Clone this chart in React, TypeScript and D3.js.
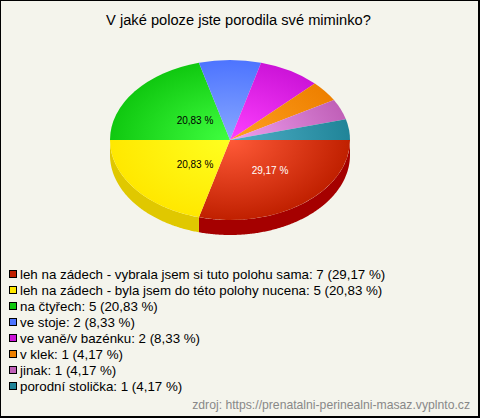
import React from "react";
import * as d3 from "d3";

const title = "V jaké poloze jste porodila své miminko?";
const categories = ["leh na zádech - vybrala jsem si tuto polohu sama","leh na zádech - byla jsem do této polohy nucena","na čtyřech","ve stoje","ve vaně/v bazénku","v klek","jinak","porodní stolička"];
const values = [7,5,5,2,2,1,1,1];
const percents = ["29,17","20,83","20,83","8,33","8,33","4,17","4,17","4,17"];
const colors = ["#c02000","#ffe800","#10c810","#4d74ff","#cc14d8","#ee8000","#c060b8","#208498"];
const lights = ["#ff5a38","#ffff20","#40ff40","#88a8ff","#ff40ff","#ffa020","#f0a0f0","#50b0c8"];
const sideColors = ["#a50000","#e0c800"];
const source = "zdroj: https://prenatalni-perinealni-masaz.vyplnto.cz";

const W = 480, H = 418, cx = 230, cy = 140, rx = 120, ry = 80, depth = 15;

export default function App() {
  const pie = d3.pie<number>().sort(null).startAngle(Math.PI / 2).endAngle(Math.PI * 2.5);
  const arcs = pie(values);
  const arc = d3.arc<d3.PieArcDatum<number>>().innerRadius(0).outerRadius(1);
  const side = d3.area<number>()
    .x(a => rx * Math.sin(a))
    .y0(a => -ry * Math.cos(a))
    .y1(a => -ry * Math.cos(a) + depth);
  const sideAngles = (s: d3.PieArcDatum<number>) =>
    d3.range(s.startAngle, Math.min(s.endAngle, Math.PI * 1.5) + 0.001, 0.01).concat(Math.min(s.endAngle, Math.PI * 1.5));
  const labels = [
    { i: 0, x: 270, y: 174, fill: "#fff" },
    { i: 1, x: 195, y: 168, fill: "#000" },
    { i: 2, x: 195, y: 124, fill: "#000" },
  ];
  return (
    <svg width={W} height={H} viewBox={`0 0 ${W} ${H}`} style={{ position: "fixed", left: 0, top: 0, display: "block" }} fontFamily="'Liberation Sans', Arial, sans-serif">
      <defs>
        {arcs.map((_, i) => (
          <radialGradient key={i} id={`g${i}`} gradientUnits="userSpaceOnUse" cx={0} cy={0} r={1}>
            <stop offset="0" stopColor={lights[i]} />
            <stop offset="1" stopColor={colors[i]} />
          </radialGradient>
        ))}
      </defs>
      <rect x={0.5} y={0.5} width={W - 1.5} height={H - 1.5} fill="#f4f4ec" stroke="#000" />
      <rect x={0} y={H - 2} width={W} height={2} fill="#000" />
      <rect x={W - 2} y={0} width={2} height={H} fill="#000" />
      <text x={238.5} y={25} textAnchor="middle" fontSize={14.67} fill="#000">{title}</text>
      <g transform={`translate(${cx},${cy})`}>
        {arcs.map((s, i) =>
          s.startAngle < Math.PI * 1.5 ? (
            <path key={i} d={side(sideAngles(s)) || ""} fill={sideColors[i] ?? colors[i]} />
          ) : null
        )}
        <g transform={`scale(${rx},${ry})`}>
          {arcs.map((s, i) => (
            <path key={i} d={arc(s) || ""} fill={`url(#g${i})`} />
          ))}
        </g>
      </g>
      {labels.map(l => (
        <text key={l.i} x={l.x} y={l.y} textAnchor="middle" fontSize={10} fill={l.fill}>{percents[l.i]} %</text>
      ))}
      {categories.map((c, i) => {
        const y = 274 + i * 16;
        return (
          <g key={i}>
            <rect x={9.5} y={y - 3.5} width={7} height={7} fill={colors[i]} stroke="#000" />
            <text x={20} y={y + 5} fontSize={13.33} fill="#000">{`${c}: ${values[i]} (${percents[i]} %)`}</text>
          </g>
        );
      })}
      <text x={470} y={409} textAnchor="end" fontSize={12.2} fill="#888">{source}</text>
    </svg>
  );
}
